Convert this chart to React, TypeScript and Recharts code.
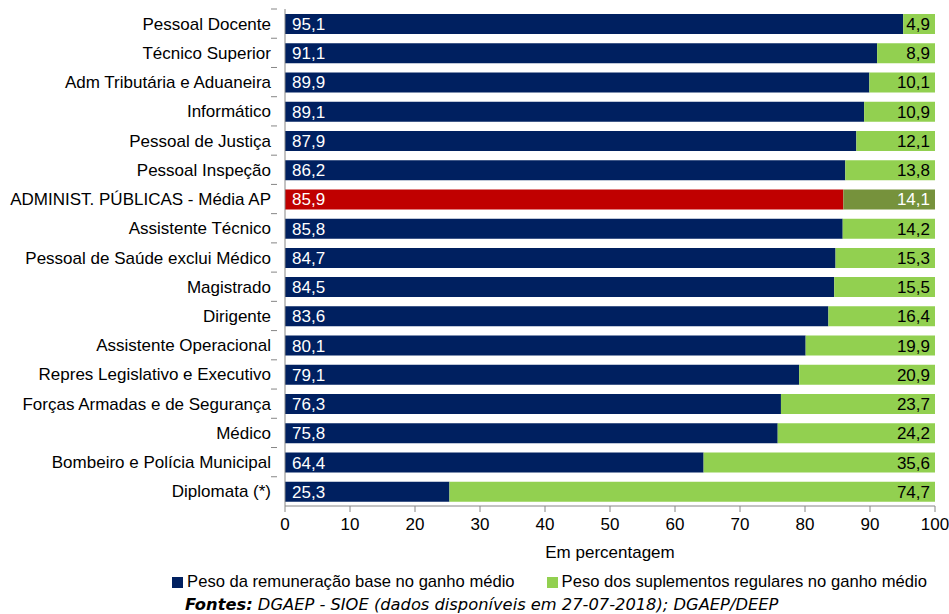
import React from 'react'
import { BarChart, Bar, XAxis, YAxis, LabelList, Cell, Legend } from 'recharts'

// ─── 데이터 ─────────────────────────────────────────────────────
const categories = [
  'Pessoal Docente',
  'Técnico Superior',
  'Adm Tributária e Aduaneira',
  'Informático',
  'Pessoal de Justiça',
  'Pessoal Inspeção',
  'ADMINIST. PÚBLICAS - Média AP',
  'Assistente Técnico',
  'Pessoal de Saúde exclui Médico',
  'Magistrado',
  'Dirigente',
  'Assistente Operacional',
  'Repres Legislativo e Executivo',
  'Forças Armadas e de Segurança',
  'Médico',
  'Bombeiro e Polícia Municipal',
  'Diplomata (*)',
]
const baseValues = [95.1, 91.1, 89.9, 89.1, 87.9, 86.2, 85.9, 85.8, 84.7, 84.5, 83.6, 80.1, 79.1, 76.3, 75.8, 64.4, 25.3]
const supValues = [4.9, 8.9, 10.1, 10.9, 12.1, 13.8, 14.1, 14.2, 15.3, 15.5, 16.4, 19.9, 20.9, 23.7, 24.2, 35.6, 74.7]
const xTicks = [0, 10, 20, 30, 40, 50, 60, 70, 80, 90, 100]
const highlight = 'ADMINIST. PÚBLICAS - Média AP'

const SERIES_BASE = 'Peso da remuneração base no ganho médio'
const SERIES_SUP = 'Peso dos suplementos regulares no ganho médio'

const data = categories.map((c, i) => ({ name: c, base: baseValues[i], sup: supValues[i] }))

// ─── 스타일 ─────────────────────────────────────────────────────
const W = 949
const H = 614
const PLOT_TOP = 9
const PLOT_H = 497
const X_AXIS_H = 50
const LEGEND_H = 24
// 범례 높이만큼 플롯 영역이 줄어드는 것을 보정
const MARGIN = { top: PLOT_TOP, right: 14, left: 0, bottom: H - PLOT_TOP - PLOT_H - X_AXIS_H - LEGEND_H }
const FONT = '"Liberation Sans", Arial, sans-serif'
const NAVY = '#002060'
const GREEN = '#92D050'
const RED = '#C00000'
const OLIVE = '#76923C'
const AXIS = '#868686'

const fmt = (v: number) => v.toFixed(1).replace('.', ',')
const halfBand = PLOT_H / categories.length / 2

// 카테고리 축: 라벨 + 카테고리 경계 tick
const CatTick = (props: any) => {
  const { x, y, payload } = props
  return (
    <g>
      <line x1={x - 6} x2={x} y1={y - halfBand} y2={y - halfBand} stroke={AXIS} />
      <text x={x - 6} y={y} dy={6} textAnchor="end" fontSize={17} fill="#000" fontFamily={FONT}>
        {payload.value}
      </text>
    </g>
  )
}

const BaseLabel = (props: any) => {
  const { x, y, height, value } = props
  return (
    <text x={x + 7} y={y + height / 2} dy={6} fontSize={17} fill="#fff" fontFamily={FONT}>
      {fmt(value)}
    </text>
  )
}

const SupLabel = (props: any) => {
  const { x, y, width, height, value, index } = props
  const hl = categories[index] === highlight
  return (
    <text x={x + width - 5} y={y + height / 2} dy={6} textAnchor="end" fontSize={17}
      fill={hl ? '#fff' : '#000'} fontFamily={FONT}>
      {fmt(value)}
    </text>
  )
}

export default function App() {
  return (
    <div style={{ position: 'absolute', left: 0, top: 0, width: W, height: H, overflow: 'hidden', background: '#fff', fontFamily: FONT }}>
      <BarChart width={W} height={H} data={data} layout="vertical" margin={MARGIN} barSize={20}>
        <XAxis type="number" domain={[0, 100]} ticks={xTicks} height={X_AXIS_H}
          tick={{ fontSize: 17, fill: '#000', fontFamily: FONT }}
          tickLine={{ stroke: AXIS }} axisLine={{ stroke: AXIS }} tickSize={6} tickMargin={6}
          label={{ value: 'Em percentagem', position: 'insideBottom', offset: -2, fontSize: 17, fill: '#000', fontFamily: FONT }} />
        <YAxis type="category" dataKey="name" width={285} tick={<CatTick />} tickLine={false}
          axisLine={{ stroke: AXIS }} interval={0} />
        <Legend verticalAlign="bottom" align="center" iconType="square" iconSize={11} height={LEGEND_H}
          wrapperStyle={{ fontSize: 16.6, fontFamily: FONT, top: 572, left: 91, width: W }}
          formatter={(v: string) => <span style={{ color: '#000', fontSize: 16.6, marginRight: 22 }}>{v}</span>} />
        <Bar dataKey="base" name={SERIES_BASE} stackId="a" fill={NAVY} isAnimationActive={false}>
          {data.map((d) => <Cell key={d.name} fill={d.name === highlight ? RED : NAVY} />)}
          <LabelList dataKey="base" content={<BaseLabel />} />
        </Bar>
        <Bar dataKey="sup" name={SERIES_SUP} stackId="a" fill={GREEN} isAnimationActive={false}>
          {data.map((d) => <Cell key={d.name} fill={d.name === highlight ? OLIVE : GREEN} />)}
          <LabelList dataKey="sup" content={<SupLabel />} />
        </Bar>
      </BarChart>
      <div style={{ position: 'absolute', left: 185, top: 596, fontSize: 16.3, lineHeight: '18px', fontStyle: 'italic', fontFamily: '"DejaVu Sans", sans-serif', color: '#000', whiteSpace: 'nowrap' }}>
        <b>Fontes:</b> DGAEP - SIOE (dados disponíveis em 27-07-2018); DGAEP/DEEP
      </div>
    </div>
  )
}
